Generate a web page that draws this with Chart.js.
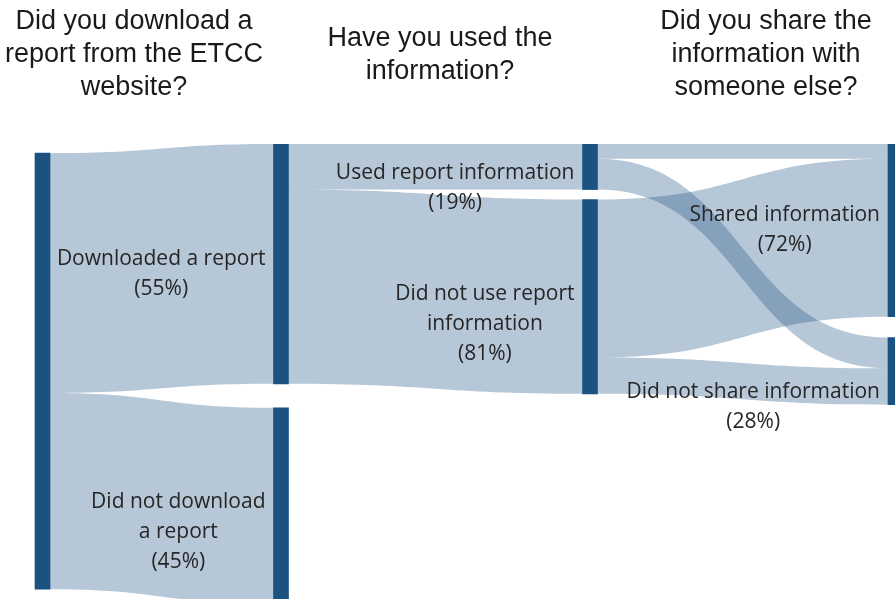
<!DOCTYPE html>
<html>
<head>
<meta charset="utf-8">
<script src="https://cdn.jsdelivr.net/npm/chart.js@4.4.1/dist/chart.umd.min.js"></script>
<style>
  html, body { margin: 0; padding: 0; background: #fff; }
  #wrap { width: 895px; height: 599px; }
</style>
</head>
<body>
<div id="wrap"><canvas id="myChart" width="895" height="599"></canvas></div>
<script>
// column headers (one per step)
const stageTitles = [
    ['Did you download a', 'report from the ETCC', 'website?'],
    ['Have you used the', 'information?'],
    ['Did you share the', 'information with', 'someone else?'],
];

// nodes
const nodeLabels = [
    [],
    ['Downloaded a report'],
    ['Did not download', 'a report'],
    ['Used report information'],
    ['Did not use report', 'information'],
    ['Shared information'],
    ['Did not share information'],
];
const nodeColumn = [0, 1, 1, 2, 2, 3, 3];

// links (share of all respondents, %)
const linkFrom  = [0, 0, 1, 1, 3, 3, 4, 4];
const linkTo    = [1, 2, 3, 4, 5, 6, 5, 6];
const linkValue = [55, 45, 10.45, 44.55, 3.4, 7.05, 36.2, 8.35];

// layout only
const columnX = [42.5, 281, 590, 895.5];   // px, node centres
const columnTop = [2.1, 0, 0, 0];          // value units
const columnGap = [0, 5.5, 2.3, 4.8];      // value units
const labelNudge = [0, 10, 26, 21, 27, 0, 36];
const titleX = [134, 440, 766];
const pxPerUnit = 4.36;
const topPad = 144;
const nodeWidth = 15;
const nodeColor = '#1b5282';
const flowColor = 'rgba(27, 82, 130, 0.32)';

// node sizes and stacking
const nodeValue = nodeLabels.map((_, i) => {
    let inSum = 0, outSum = 0;
    linkValue.forEach((v, k) => {
        if (linkTo[k] === i) inSum += v;
        if (linkFrom[k] === i) outSum += v;
    });
    return Math.max(inSum, outSum);
});
const nodeY0 = [], nodeY1 = [];
const colCursor = columnTop.slice();
nodeLabels.forEach((_, i) => {
    const c = nodeColumn[i];
    nodeY0[i] = colCursor[c];
    nodeY1[i] = nodeY0[i] + nodeValue[i];
    colCursor[c] = nodeY1[i] + columnGap[c];
});
const columnTotal = columnX.map((_, c) =>
    nodeValue.reduce((s, v, i) => s + (nodeColumn[i] === c ? v : 0), 0));

// link offsets
const outPos = nodeY0.slice(), inPos = nodeY0.slice();
const links = linkValue.map((v, k) => {
    const s = linkFrom[k], t = linkTo[k];
    const l = { s: s, t: t, sy0: outPos[s], sy1: outPos[s] + v, ty0: inPos[t], ty1: inPos[t] + v };
    outPos[s] += v;
    inPos[t] += v;
    return l;
});

const nodeBars = nodeLabels.map((_, i) => ({ x: columnX[nodeColumn[i]], y: [nodeY0[i], nodeY1[i]] }));

const flowPlugin = {
    id: 'flows',
    beforeDatasetsDraw(chart) {
        const ctx = chart.ctx, xs = chart.scales.x, ys = chart.scales.y;
        ctx.save();
        ctx.fillStyle = flowColor;
        links.forEach((l) => {
            const x0 = xs.getPixelForValue(columnX[nodeColumn[l.s]]) + nodeWidth / 2;
            const x1 = xs.getPixelForValue(columnX[nodeColumn[l.t]]) - nodeWidth / 2;
            const xm = (x0 + x1) / 2;
            const a0 = ys.getPixelForValue(l.sy0), a1 = ys.getPixelForValue(l.sy1);
            const b0 = ys.getPixelForValue(l.ty0), b1 = ys.getPixelForValue(l.ty1);
            ctx.beginPath();
            ctx.moveTo(x0, a0);
            ctx.bezierCurveTo(xm, a0, xm, b0, x1, b0);
            ctx.lineTo(x1, b1);
            ctx.bezierCurveTo(xm, b1, xm, a1, x0, a1);
            ctx.closePath();
            ctx.fill();
        });
        ctx.restore();
    },
    afterDatasetsDraw(chart) {
        const ctx = chart.ctx, xs = chart.scales.x, ys = chart.scales.y;
        ctx.save();
        ctx.textAlign = 'center';
        ctx.textBaseline = 'middle';

        // node labels
        ctx.font = '21px "Open Sans"';
        ctx.fillStyle = '#262626';
        nodeLabels.forEach((lines, i) => {
            if (!lines.length) return;
            const pct = Math.round(nodeValue[i] / columnTotal[nodeColumn[i]] * 100);
            const all = lines.concat(['(' + pct + '%)']);
            const w = Math.max(...all.map((t) => ctx.measureText(t).width));
            const right = xs.getPixelForValue(columnX[nodeColumn[i]]) - nodeWidth / 2 - 8;
            const cx = right - w / 2;
            const cy = (ys.getPixelForValue(nodeY0[i]) + ys.getPixelForValue(nodeY1[i])) / 2 + labelNudge[i];
            const lh = 30;
            all.forEach((t, j) => {
                ctx.fillText(t, cx, cy - (all.length - 1) * lh / 2 + j * lh);
            });
        });

        // column titles
        ctx.font = '27px "Liberation Sans"';
        ctx.fillStyle = '#1a1a1a';
        stageTitles.forEach((lines, c) => {
            const lh = 33;
            lines.forEach((t, j) => {
                ctx.fillText(t, titleX[c], 55 - (lines.length - 1) * lh / 2 + j * lh);
            });
        });
        ctx.restore();
    },
};

var ctx = document.getElementById('myChart').getContext('2d');
var myChart = new Chart(ctx, {
    type: 'bar',
    data: {
        datasets: [{
            data: nodeBars,
            backgroundColor: nodeColor,
            barThickness: nodeWidth,
            borderWidth: 0,
        }],
    },
    options: {
        responsive: false,
        animation: false,
        events: [],
        layout: { padding: { top: topPad, left: 0, right: 0, bottom: 0 } },
        plugins: {
            legend: { display: false },
            tooltip: { enabled: false },
        },
        scales: {
            x: { type: 'linear', display: false, offset: false, min: 0, max: 895 },
            y: { type: 'linear', display: false, reverse: true, min: 0, max: (599 - topPad) / pxPerUnit },
        },
    },
    plugins: [flowPlugin],
});
</script>
</body>
</html>
